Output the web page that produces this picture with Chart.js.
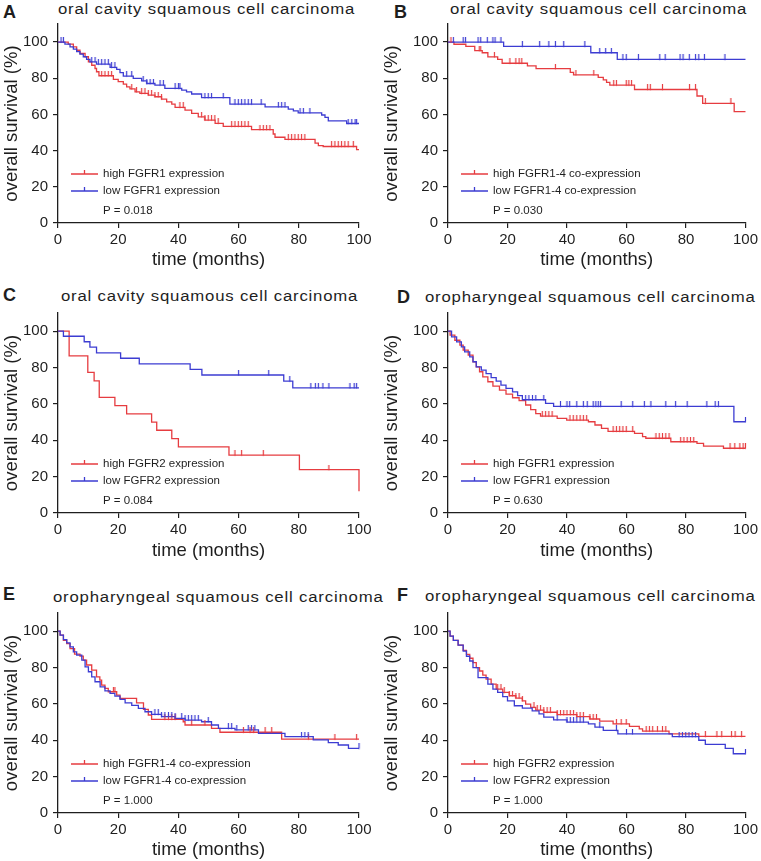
<!DOCTYPE html>
<html>
<head>
<meta charset="utf-8">
<script src="https://cdn.jsdelivr.net/npm/chart.js@4.4.1/dist/chart.umd.min.js"></script>
<style>
  html, body { margin: 0; padding: 0; background: #fff; }
  #fig { position: relative; width: 761px; height: 861px; overflow: hidden; font-family: "Liberation Sans", Arial, sans-serif; color: #1e1e1e; }
  #fig canvas { position: absolute; }
  .lbl { position: absolute; font-size: 18px; font-weight: bold; line-height: 18px; }
  .ttl { position: absolute; font-size: 15.5px; line-height: 15px; letter-spacing: 0.75px; white-space: nowrap; transform: scaleX(1.08); transform-origin: 0 0; }
</style>
</head>
<body>
<div id="fig">
  <div class="lbl" style="left:3px;top:3px">A</div>
  <div class="ttl" style="left:58px;top:1px">oral cavity squamous cell carcinoma</div>
  <div class="lbl" style="left:394px;top:3px">B</div>
  <div class="ttl" style="left:450px;top:1px">oral cavity squamous cell carcinoma</div>
  <div class="lbl" style="left:3px;top:286px">C</div>
  <div class="ttl" style="left:61px;top:288px">oral cavity squamous cell carcinoma</div>
  <div class="lbl" style="left:397px;top:288px">D</div>
  <div class="ttl" style="left:425px;top:289px">oropharyngeal squamous cell carcinoma</div>
  <div class="lbl" style="left:3px;top:585px">E</div>
  <div class="ttl" style="left:53px;top:589px">oropharyngeal squamous cell carcinoma</div>
  <div class="lbl" style="left:397px;top:586px">F</div>
  <div class="ttl" style="left:425px;top:588px">oropharyngeal squamous cell carcinoma</div>

  <canvas id="cA" width="380" height="275" style="left:0px;top:0px"></canvas>
  <canvas id="cB" width="381" height="275" style="left:380px;top:0px"></canvas>
  <canvas id="cC" width="380" height="280" style="left:0px;top:285px"></canvas>
  <canvas id="cD" width="381" height="280" style="left:380px;top:285px"></canvas>
  <canvas id="cE" width="380" height="286" style="left:0px;top:575px"></canvas>
  <canvas id="cF" width="381" height="286" style="left:380px;top:575px"></canvas>
</div>
<script>
const xTicks = [0, 20, 40, 60, 80, 100];
const yTicks = [0, 20, 40, 60, 80, 100];

// A: oral cavity, FGFR1
const aHighT = [0, 3.4, 5.1, 6.2, 7.3, 9, 10.1, 11.2, 12.3, 12.8, 13.6, 18.4, 20, 21.7, 22.8, 23.9, 25.6, 27.2, 30, 32.2, 34.4, 36.1, 37.8, 38.9, 42.2, 44.4, 46.6, 48.8, 52.2, 54.9, 64.3, 71.5, 72.1, 75.4, 85.4, 86.5, 88.1, 99.2];
const aHighS = [100, 98.9, 97.4, 95.5, 93.7, 91.9, 89.1, 87.2, 85.4, 83.6, 81.4, 79.4, 78.2, 76.8, 75.3, 74.1, 72.5, 71.6, 70.7, 69.8, 68.5, 67, 65.7, 63.9, 62.4, 60.6, 58.7, 56.9, 55.1, 53.4, 51.6, 49.2, 47.4, 46.2, 44.1, 42.8, 42.3, 40.6];
const aHighC = [14.5, 15.6, 16.7, 17.8, 24.5, 26.1, 27.8, 28.9, 30, 31.1, 32.2, 33.3, 34.4, 40.5, 41.6, 47.7, 48.8, 49.9, 51, 52.1, 53.2, 57.7, 58.8, 59.9, 61, 62.1, 63.2, 67.1, 68.2, 69.3, 70.4, 76.5, 77.6, 78.7, 79.8, 80.9, 82, 90.9, 92, 93.1, 94.2, 95.3, 96.4, 98.1];
const aLowT = [0, 2.3, 4, 5.1, 6.2, 7.3, 8.4, 9.5, 10.6, 12.8, 17.3, 19.5, 20.6, 21.7, 25, 27.8, 29.5, 32.2, 35.5, 41.1, 42.7, 44.4, 47.7, 57.1, 68.8, 76.5, 78.2, 79.8, 87.6, 88.7, 89.8, 95.9];
const aLowS = [100, 98.9, 97.4, 96.1, 94.7, 93.4, 91.9, 90.4, 89.1, 87.8, 86, 84.9, 83.1, 81.2, 79.9, 78.6, 77.1, 76.2, 74.4, 73.5, 72.5, 71.3, 69.3, 65.7, 64.2, 62.9, 62, 60.9, 59.7, 58.4, 56.4, 55];
const aLowC = [1, 1.8, 11.2, 12.3, 13.4, 14.5, 15.6, 16.7, 17.8, 18.9, 22.8, 24.5, 28.3, 29.5, 30.6, 31.7, 33.9, 35, 38.9, 40, 40.5, 48.8, 49.9, 51, 54.9, 58.8, 59.9, 61, 62.1, 63.2, 64.3, 67.5, 73.2, 74.3, 75.4, 80.4, 81.5, 83.7, 96.4, 97.6, 98.7, 99.2];

// B: oral cavity, FGFR1-4 co-expression
const bHighT = [0, 2, 6, 9, 11.5, 13.4, 16.7, 18.2, 26.7, 29.6, 41.1, 42.2, 50.5, 52.2, 53.3, 54.4, 62.7, 83.7, 85.6, 96.2];
const bHighS = [100, 98.8, 97.6, 95.3, 94.1, 91.8, 90.5, 88.3, 86.9, 85.3, 83.3, 81.9, 80.5, 79.1, 77.7, 76.2, 73.8, 70.2, 66.1, 61.6];
const bHighC = [1, 10.5, 11, 15.6, 20.8, 22.8, 23.9, 24.8, 36.1, 43, 49, 55.7, 56.6, 59.9, 60.8, 61.7, 67.1, 68, 72.1, 81.2, 83.2, 86.5, 95.1];
const bLowT = [0, 18.7, 48, 56.9];
const bLowS = [100, 97.6, 94.1, 90.4];
const bLowC = [1.8, 5.1, 5.9, 10.1, 11, 13.2, 15.1, 15.8, 17.8, 25, 30.8, 33.9, 36.1, 38.9, 46, 51, 53, 54.9, 58.8, 59.9, 64, 71.2, 73, 78, 79, 81.1, 83.2, 84.3, 86.2, 93.1];

// C: oral cavity, FGFR2
const cHighT = [0, 3.7, 9.9, 12, 13.7, 18.9, 22.8, 31.1, 32.8, 37.8, 40, 56.8, 80.2, 100];
const cHighS = [100, 86.4, 77.3, 72.7, 63.6, 59.1, 54.5, 50, 45.5, 40.9, 36.4, 31.8, 23.9, 12];
const cHighC = [58.8, 61, 68.2, 90];
const cLowT = [0, 1.8, 8.7, 10.6, 12.8, 20.8, 27, 43.9, 47.8, 75, 78];
const cLowS = [100, 97.2, 94.2, 91.2, 88.1, 85.1, 82, 79, 75.9, 72.5, 68.8];
const cLowC = [60, 70, 77, 84, 85.5, 86.5, 88, 90, 97, 98.4, 99.2];

// D: oropharyngeal, FGFR1
const dHighT = [0, 0.7, 2.3, 4, 5.1, 6.8, 8.4, 9.5, 10.6, 11.7, 13.4, 15.1, 17.3, 19.5, 21.7, 23.9, 26.1, 27.8, 29.5, 31.1, 36.7, 39.9, 47.2, 49.4, 51.6, 53.8, 62.7, 65.4, 66.5, 74.9, 83.7, 85.9, 92.6];
const dHighS = [100, 97.8, 95, 92.3, 89.6, 86.8, 83.2, 80.4, 77.7, 74.9, 72.2, 69.8, 67.6, 65.4, 63.4, 61.8, 59.4, 56.9, 54.7, 53.3, 52, 51.1, 50.2, 48.4, 46.5, 44.9, 43.8, 42, 41.1, 39.2, 38.3, 36.8, 35.6];
const dHighC = [31.7, 32.8, 33.9, 35, 41, 42.1, 43.3, 44.4, 45.5, 46.6, 55.5, 56.6, 57.7, 58.8, 59.9, 62.1, 69.9, 71, 72.1, 73.2, 74.3, 78.2, 79.3, 80.4, 81.5, 82.6, 94.8, 96.4, 98.1, 99.2, 100];
const dLowT = [0, 1.2, 2.9, 4.5, 5.6, 7.3, 8.4, 9.5, 11.2, 12.8, 14.5, 16.2, 17.8, 19.5, 21.7, 23.4, 25, 32.8, 35.5, 96.1];
const dLowS = [100, 96.9, 94.1, 91.4, 88.6, 85.9, 83.2, 80.4, 78.6, 76.7, 74.5, 72.5, 70.3, 68.5, 66.6, 64.6, 62.3, 60.3, 58.6, 50.2];
const dLowC = [26.1, 27.2, 28.4, 29.5, 32.2, 37.8, 40, 40.9, 43.3, 45.5, 46.8, 48.8, 49.7, 50.5, 51.3, 58.2, 62.1, 66, 68.2, 73.2, 76.5, 80.4, 87, 89.8, 90.9, 100];

// E: oropharyngeal, FGFR1-4 co-expression
const eHighT = [0, 0.7, 1.8, 2.9, 4, 5.5, 7.3, 8.4, 9.5, 11.2, 12.8, 13.9, 14.5, 15.6, 16.7, 19.5, 20.6, 26.1, 28.4, 30, 31.1, 41.6, 42.2, 51, 53.8, 74.3];
const eHighS = [100, 97.8, 95, 93.2, 90.4, 87.4, 86.3, 84.1, 81.4, 78.6, 74.9, 73.1, 70.3, 68.5, 66.7, 64.8, 63, 60.6, 57, 53.9, 51.5, 50.2, 48.4, 46.5, 44.4, 40.6];
const eHighC = [18.4, 18.9, 35.5, 36.7, 37.8, 38.9, 44.4, 48.8, 61.6, 63.8, 65, 68.8, 71, 83.2, 92, 99.2];
const eLowT = [0, 0.7, 1.8, 2.9, 4, 5.1, 6.2, 7.9, 9, 10.1, 11.2, 12.3, 14, 15.6, 17.3, 18.9, 20.6, 22.3, 24.5, 26.7, 28.9, 31.1, 34.4, 38.9, 42.2, 47.7, 51, 53.3, 58.8, 66.6, 75.4, 84.8, 89.8, 93.1, 96.5];
const eLowS = [100, 97.8, 95.4, 93.6, 91.4, 88.6, 86.8, 84.1, 80.4, 77.7, 74.9, 72.2, 69.4, 67.2, 65.8, 64.3, 62.5, 60.6, 59.2, 57.5, 55.7, 54.2, 53, 52, 51.1, 50.2, 48.4, 46.5, 45.7, 43.8, 42, 40.2, 38.7, 37.4, 35.5];
const eLowC = [32.2, 33.3, 34.4, 35.5, 36.7, 37.8, 38.9, 41.1, 42.2, 43.3, 44.4, 45.5, 46.6, 49.9, 56.6, 57.7, 59.4, 63.2, 64.3, 65.4, 80.9, 82, 83.1, 100];

// F: oropharyngeal, FGFR2
const fHighT = [0, 0.7, 1.8, 3.4, 5.1, 6.2, 7.3, 8.4, 9.5, 10.6, 11.7, 12.8, 14.5, 16.2, 18.4, 20.6, 22.8, 25, 26.1, 27.8, 29.5, 32.2, 36.7, 43.3, 47.7, 51, 55.5, 61, 64.3, 65.4, 74.3, 84.3];
const fHighS = [100, 97.3, 94.9, 92.3, 89.4, 87.2, 85.1, 82.7, 80, 78.1, 75.8, 73.6, 70.9, 68.1, 66.3, 64.5, 63.2, 61.7, 59.9, 58.1, 56.6, 55.4, 54.1, 53, 51.7, 50.5, 49, 47.6, 46.3, 45, 43.5, 42.1];
const fHighC = [16.7, 17.8, 18.9, 20.6, 21.7, 22.8, 23.9, 25, 28.9, 30, 31.1, 32.2, 33.3, 34.4, 36.7, 37.8, 38.9, 40, 41.1, 42.2, 43.3, 44.4, 45.5, 47.7, 48.8, 49.9, 56.6, 58.2, 59.9, 66.6, 67.7, 68.8, 70.4, 72.1, 73.2, 86.5, 90.4, 92, 95.3, 96.5, 98.7];
const fLowT = [0, 0.7, 1.8, 3.4, 5.1, 6.2, 7.3, 8.4, 10.1, 13.4, 15.1, 16.7, 18.4, 20, 22.3, 25, 28.3, 30.6, 32.2, 35.5, 40, 47.2, 49.4, 52.2, 57.1, 75.4, 84.3, 86.5, 93.2, 95.9];
const fLowS = [100, 97.3, 94.9, 92.3, 89, 86.2, 83.6, 80, 74.5, 70.9, 68.1, 66.3, 64, 61.7, 59, 57.7, 56.2, 54.5, 52.7, 51.2, 50, 49, 47.2, 45.4, 43.5, 42, 40, 37.7, 35.5, 32.6];
const fLowC = [36.7, 40, 41.1, 42.2, 43.3, 44.4, 45.5, 51, 56.6, 60, 62, 77.7, 78.8, 79.9, 81, 82.1, 83.2, 100];

const RED = '#e63c40';
const BLUE = '#3c3cd2';
const INK = '#1e1e1e';

Chart.defaults.font.family = '"Liberation Sans", Arial, sans-serif';
Chart.defaults.color = INK;

function survAt(times, surv, t) {
  let s = surv[0];
  for (let i = 0; i < times.length; i++) if (times[i] <= t) s = surv[i];
  return s;
}

function tickImg(color) {
  const c = document.createElement('canvas');
  c.width = 3; c.height = 10;
  const g = c.getContext('2d');
  g.strokeStyle = color; g.lineWidth = 1.2;
  g.beginPath(); g.moveTo(1.5, 0); g.lineTo(1.5, 5.5); g.stroke();
  return c;
}
const redTick = tickImg(RED);
const blueTick = tickImg(BLUE);

function stepData(times, surv) {
  const pts = times.map((t, i) => ({ x: t, y: surv[i] }));
  if (times[times.length - 1] < 100) pts.push({ x: 100, y: surv[surv.length - 1] });
  return pts;
}

const kmLegend = {
  id: 'kmLegend',
  afterDatasetsDraw(chart, args, opts) {
    const { ctx, chartArea } = chart;
    const { left, bottom } = chartArea;
    ctx.save();
    ctx.font = '11.5px "Liberation Sans", Arial, sans-serif';
    ctx.textBaseline = 'middle';
    opts.items.forEach((it, i) => {
      const y = bottom - 49 + i * 17;
      ctx.strokeStyle = it.color;
      ctx.lineWidth = 1.3;
      ctx.beginPath();
      ctx.moveTo(left + 13, y); ctx.lineTo(left + 40, y);
      ctx.moveTo(left + 26.5, y - 4); ctx.lineTo(left + 26.5, y);
      ctx.stroke();
      ctx.fillStyle = INK;
      ctx.fillText(it.text, left + 45, y);
    });
    ctx.fillText(opts.p, left + 45, bottom - 12);
    ctx.restore();
  }
};

function kmChart(id, p) {
  const censors = (times, surv, cens) => cens.map(t => ({ x: t, y: survAt(times, surv, t) }));
  return new Chart(document.getElementById(id), {
    type: 'line',
    data: {
      datasets: [
        { data: censors(p.lowT, p.lowS, p.lowC), showLine: false, pointStyle: blueTick, pointRadius: 3, clip: false },
        { data: censors(p.highT, p.highS, p.highC), showLine: false, pointStyle: redTick, pointRadius: 3, clip: false },
        { data: stepData(p.lowT, p.lowS), stepped: true, borderColor: BLUE, borderWidth: 1.3, pointRadius: 0, fill: false, clip: false },
        { data: stepData(p.highT, p.highS), stepped: true, borderColor: RED, borderWidth: 1.3, pointRadius: 0, fill: false, clip: false }
      ]
    },
    options: {
      responsive: false,
      animation: false,
      events: [],
      layout: { padding: { left: 0, top: p.padTop, right: p.padRight, bottom: 0 } },
      scales: {
        x: {
          type: 'linear', min: 0, max: 100,
          afterBuildTicks: s => { s.ticks = xTicks.map(v => ({ value: v })); },
          afterFit: s => { s.height = p.xH; },
          grid: { drawOnChartArea: false, drawTicks: true, tickLength: 5, color: INK, lineWidth: 1.2 },
          border: { display: true, color: INK, width: 1.3 },
          ticks: { font: { size: 15 }, padding: 3, maxRotation: 0, color: INK },
          title: { display: true, text: 'time (months)', font: { size: 18.5 }, color: INK, padding: p.xPad }
        },
        y: {
          type: 'linear', min: 0, max: 110,
          afterBuildTicks: s => { s.ticks = yTicks.map(v => ({ value: v })); },
          afterFit: s => { s.width = p.yW; },
          grid: { drawOnChartArea: false, drawTicks: true, tickLength: 5, color: INK, lineWidth: 1.2 },
          border: { display: true, color: INK, width: 1.3 },
          ticks: { font: { size: 15 }, padding: 5, color: INK },
          title: { display: true, text: 'overall survival (%)', font: { size: 18.5 }, color: INK, padding: { top: 1, bottom: 0 } }
        }
      },
      plugins: {
        legend: { display: false },
        tooltip: { enabled: false },
        kmLegend: {
          items: [{ color: RED, text: p.hiLabel }, { color: BLUE, text: p.loLabel }],
          p: p.pval
        }
      }
    },
    plugins: [kmLegend]
  });
}

const left = { yW: 58, padRight: 21 };
const right = { yW: 68, padRight: 13 };

kmChart('cA', { ...left, padTop: 24, xH: 52, xPad: { top: 3, bottom: 4 },
  highT: aHighT, highS: aHighS, highC: aHighC, lowT: aLowT, lowS: aLowS, lowC: aLowC,
  hiLabel: 'high FGFR1 expression', loLabel: 'low FGFR1 expression', pval: 'P = 0.018' });
kmChart('cB', { ...right, padTop: 24, xH: 52, xPad: { top: 3, bottom: 4 },
  highT: bHighT, highS: bHighS, highC: bHighC, lowT: bLowT, lowS: bLowS, lowC: bLowC,
  hiLabel: 'high FGFR1-4 co-expression', loLabel: 'low FGFR1-4 co-expression', pval: 'P = 0.030' });
kmChart('cC', { ...left, padTop: 28, xH: 52, xPad: { top: 3, bottom: 3 },
  highT: cHighT, highS: cHighS, highC: cHighC, lowT: cLowT, lowS: cLowS, lowC: cLowC,
  hiLabel: 'high FGFR2 expression', loLabel: 'low FGFR2 expression', pval: 'P = 0.084' });
kmChart('cD', { ...right, padTop: 28, xH: 52, xPad: { top: 3, bottom: 3 },
  highT: dHighT, highS: dHighS, highC: dHighC, lowT: dLowT, lowS: dLowS, lowC: dLowC,
  hiLabel: 'high FGFR1 expression', loLabel: 'low FGFR1 expression', pval: 'P = 0.630' });
kmChart('cE', { ...left, padTop: 38, xH: 48, xPad: { top: 0, bottom: 0 },
  highT: eHighT, highS: eHighS, highC: eHighC, lowT: eLowT, lowS: eLowS, lowC: eLowC,
  hiLabel: 'high FGFR1-4 co-expression', loLabel: 'low FGFR1-4 co-expression', pval: 'P = 1.000' });
kmChart('cF', { ...right, padTop: 38, xH: 48, xPad: { top: 0, bottom: 0 },
  highT: fHighT, highS: fHighS, highC: fHighC, lowT: fLowT, lowS: fLowS, lowC: fLowC,
  hiLabel: 'high FGFR2 expression', loLabel: 'low FGFR2 expression', pval: 'P = 1.000' });
</script>
</body>
</html>
